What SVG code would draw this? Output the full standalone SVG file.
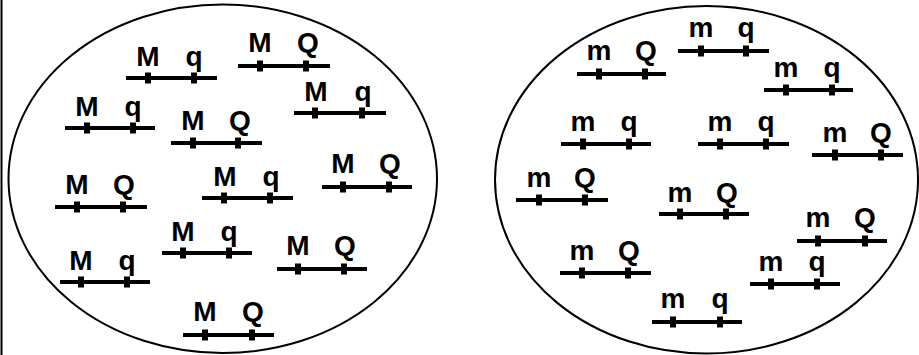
<svg xmlns="http://www.w3.org/2000/svg" width="919" height="355" viewBox="0 0 919 355">
<style>
.cell{fill:none;stroke:#000;stroke-width:2}
.chr{stroke:#000;stroke-width:4;fill:none}
.loc{fill:#000}
.lb{font-family:"Liberation Sans",Arial,sans-serif;font-weight:bold;font-size:28px;fill:#000;text-anchor:middle}
</style>
<rect width="919" height="355" fill="#fff"/>
<line x1="1.5" y1="0" x2="1.5" y2="355" stroke="#000" stroke-width="2"/>
<g id="cell-left"><ellipse class="cell" cx="222.75" cy="178.75" rx="214.25" ry="174.25"/></g>
<g id="cell-right"><ellipse class="cell" cx="706.5" cy="179.75" rx="211.5" ry="173.75"/></g>
<g id="connectors"></g>
<!-- left cell chromosomes -->
<g id="L1"><line class="chr" x1="126" y1="78" x2="217" y2="78"/><rect class="loc" x="145" y="72.5" width="6" height="11"/><rect class="loc" x="191" y="72.5" width="6" height="11"/><text class="lb" x="148" y="66">M</text><text class="lb" x="194" y="66">q</text></g>
<g id="L2"><line class="chr" x1="238" y1="66" x2="330" y2="66"/><rect class="loc" x="257" y="60.5" width="6" height="11"/><rect class="loc" x="303" y="60.5" width="6" height="11"/><text class="lb" x="260" y="52">M</text><text class="lb" x="308" y="52">Q</text></g>
<g id="L3"><line class="chr" x1="294" y1="113" x2="386" y2="113"/><rect class="loc" x="312" y="107.5" width="6" height="11"/><rect class="loc" x="359" y="107.5" width="6" height="11"/><text class="lb" x="316" y="101">M</text><text class="lb" x="363" y="101">q</text></g>
<g id="L4"><line class="chr" x1="65" y1="128" x2="155" y2="128"/><rect class="loc" x="84" y="122.5" width="6" height="11"/><rect class="loc" x="130" y="122.5" width="6" height="11"/><text class="lb" x="87" y="116">M</text><text class="lb" x="133" y="116">q</text></g>
<g id="L5"><line class="chr" x1="171" y1="143" x2="262" y2="143"/><rect class="loc" x="190" y="137.5" width="6" height="11"/><rect class="loc" x="235" y="137.5" width="6" height="11"/><text class="lb" x="193" y="130">M</text><text class="lb" x="240" y="130">Q</text></g>
<g id="L6"><line class="chr" x1="55" y1="207" x2="147" y2="207"/><rect class="loc" x="74" y="201.5" width="6" height="11"/><rect class="loc" x="120" y="201.5" width="6" height="11"/><text class="lb" x="77" y="194">M</text><text class="lb" x="124" y="194">Q</text></g>
<g id="L7"><line class="chr" x1="202" y1="198" x2="293" y2="198"/><rect class="loc" x="221" y="192.5" width="6" height="11"/><rect class="loc" x="267" y="192.5" width="6" height="11"/><text class="lb" x="225" y="186">M</text><text class="lb" x="271" y="186">q</text></g>
<g id="L8"><line class="chr" x1="322" y1="187" x2="412" y2="187"/><rect class="loc" x="340" y="181.5" width="6" height="11"/><rect class="loc" x="386" y="181.5" width="6" height="11"/><text class="lb" x="343" y="173">M</text><text class="lb" x="390" y="173">Q</text></g>
<g id="L9"><line class="chr" x1="162" y1="253" x2="252" y2="253"/><rect class="loc" x="180" y="247.5" width="6" height="11"/><rect class="loc" x="226" y="247.5" width="6" height="11"/><text class="lb" x="183" y="241">M</text><text class="lb" x="229" y="241">q</text></g>
<g id="L10"><line class="chr" x1="60" y1="282" x2="150" y2="282"/><rect class="loc" x="78" y="276.5" width="6" height="11"/><rect class="loc" x="124" y="276.5" width="6" height="11"/><text class="lb" x="81" y="270">M</text><text class="lb" x="127" y="270">q</text></g>
<g id="L11"><line class="chr" x1="277" y1="269" x2="367" y2="269"/><rect class="loc" x="295" y="263.5" width="6" height="11"/><rect class="loc" x="341" y="263.5" width="6" height="11"/><text class="lb" x="298" y="255">M</text><text class="lb" x="345" y="255">Q</text></g>
<g id="L12"><line class="chr" x1="183" y1="335" x2="274" y2="335"/><rect class="loc" x="202" y="329.5" width="6" height="11"/><rect class="loc" x="249" y="329.5" width="6" height="11"/><text class="lb" x="205" y="321">M</text><text class="lb" x="253" y="321">Q</text></g>
<!-- right cell chromosomes -->
<g id="R1"><line class="chr" x1="577" y1="74" x2="666" y2="74"/><rect class="loc" x="596" y="68.5" width="6" height="11"/><rect class="loc" x="642" y="68.5" width="6" height="11"/><text class="lb" x="599" y="60">m</text><text class="lb" x="646" y="60">Q</text></g>
<g id="R2"><line class="chr" x1="678" y1="51" x2="769" y2="51"/><rect class="loc" x="698" y="45.5" width="6" height="11"/><rect class="loc" x="743" y="45.5" width="6" height="11"/><text class="lb" x="701" y="37">m</text><text class="lb" x="746" y="37">q</text></g>
<g id="R3"><line class="chr" x1="764" y1="90" x2="853" y2="90"/><rect class="loc" x="783" y="84.5" width="6" height="11"/><rect class="loc" x="829" y="84.5" width="6" height="11"/><text class="lb" x="786" y="77">m</text><text class="lb" x="832" y="77">q</text></g>
<g id="R4"><line class="chr" x1="561" y1="144" x2="651" y2="144"/><rect class="loc" x="580" y="138.5" width="6" height="11"/><rect class="loc" x="626" y="138.5" width="6" height="11"/><text class="lb" x="583" y="131">m</text><text class="lb" x="629" y="131">q</text></g>
<g id="R5"><line class="chr" x1="698" y1="144" x2="789" y2="144"/><rect class="loc" x="717" y="138.5" width="6" height="11"/><rect class="loc" x="763" y="138.5" width="6" height="11"/><text class="lb" x="720" y="131">m</text><text class="lb" x="766" y="131">q</text></g>
<g id="R6"><line class="chr" x1="812" y1="155" x2="903" y2="155"/><rect class="loc" x="832" y="149.5" width="6" height="11"/><rect class="loc" x="878" y="149.5" width="6" height="11"/><text class="lb" x="835" y="142">m</text><text class="lb" x="881" y="142">Q</text></g>
<g id="R7"><line class="chr" x1="516" y1="200" x2="608" y2="200"/><rect class="loc" x="536" y="194.5" width="6" height="11"/><rect class="loc" x="582" y="194.5" width="6" height="11"/><text class="lb" x="539" y="187">m</text><text class="lb" x="585" y="187">Q</text></g>
<g id="R8"><line class="chr" x1="659" y1="214" x2="749" y2="214"/><rect class="loc" x="677" y="208.5" width="6" height="11"/><rect class="loc" x="723" y="208.5" width="6" height="11"/><text class="lb" x="680" y="202">m</text><text class="lb" x="727" y="202">Q</text></g>
<g id="R9"><line class="chr" x1="797" y1="241" x2="887" y2="241"/><rect class="loc" x="815" y="235.5" width="6" height="11"/><rect class="loc" x="862" y="235.5" width="6" height="11"/><text class="lb" x="818" y="227">m</text><text class="lb" x="865" y="227">Q</text></g>
<g id="R10"><line class="chr" x1="560" y1="273" x2="651" y2="273"/><rect class="loc" x="579" y="267.5" width="6" height="11"/><rect class="loc" x="625" y="267.5" width="6" height="11"/><text class="lb" x="582" y="260">m</text><text class="lb" x="629" y="260">Q</text></g>
<g id="R11"><line class="chr" x1="750" y1="284" x2="840" y2="284"/><rect class="loc" x="768" y="278.5" width="6" height="11"/><rect class="loc" x="814" y="278.5" width="6" height="11"/><text class="lb" x="771" y="271">m</text><text class="lb" x="817" y="271">q</text></g>
<g id="R12"><line class="chr" x1="652" y1="322" x2="742" y2="322"/><rect class="loc" x="670" y="316.5" width="6" height="11"/><rect class="loc" x="717" y="316.5" width="6" height="11"/><text class="lb" x="673" y="308">m</text><text class="lb" x="720" y="308">q</text></g>
</svg>
